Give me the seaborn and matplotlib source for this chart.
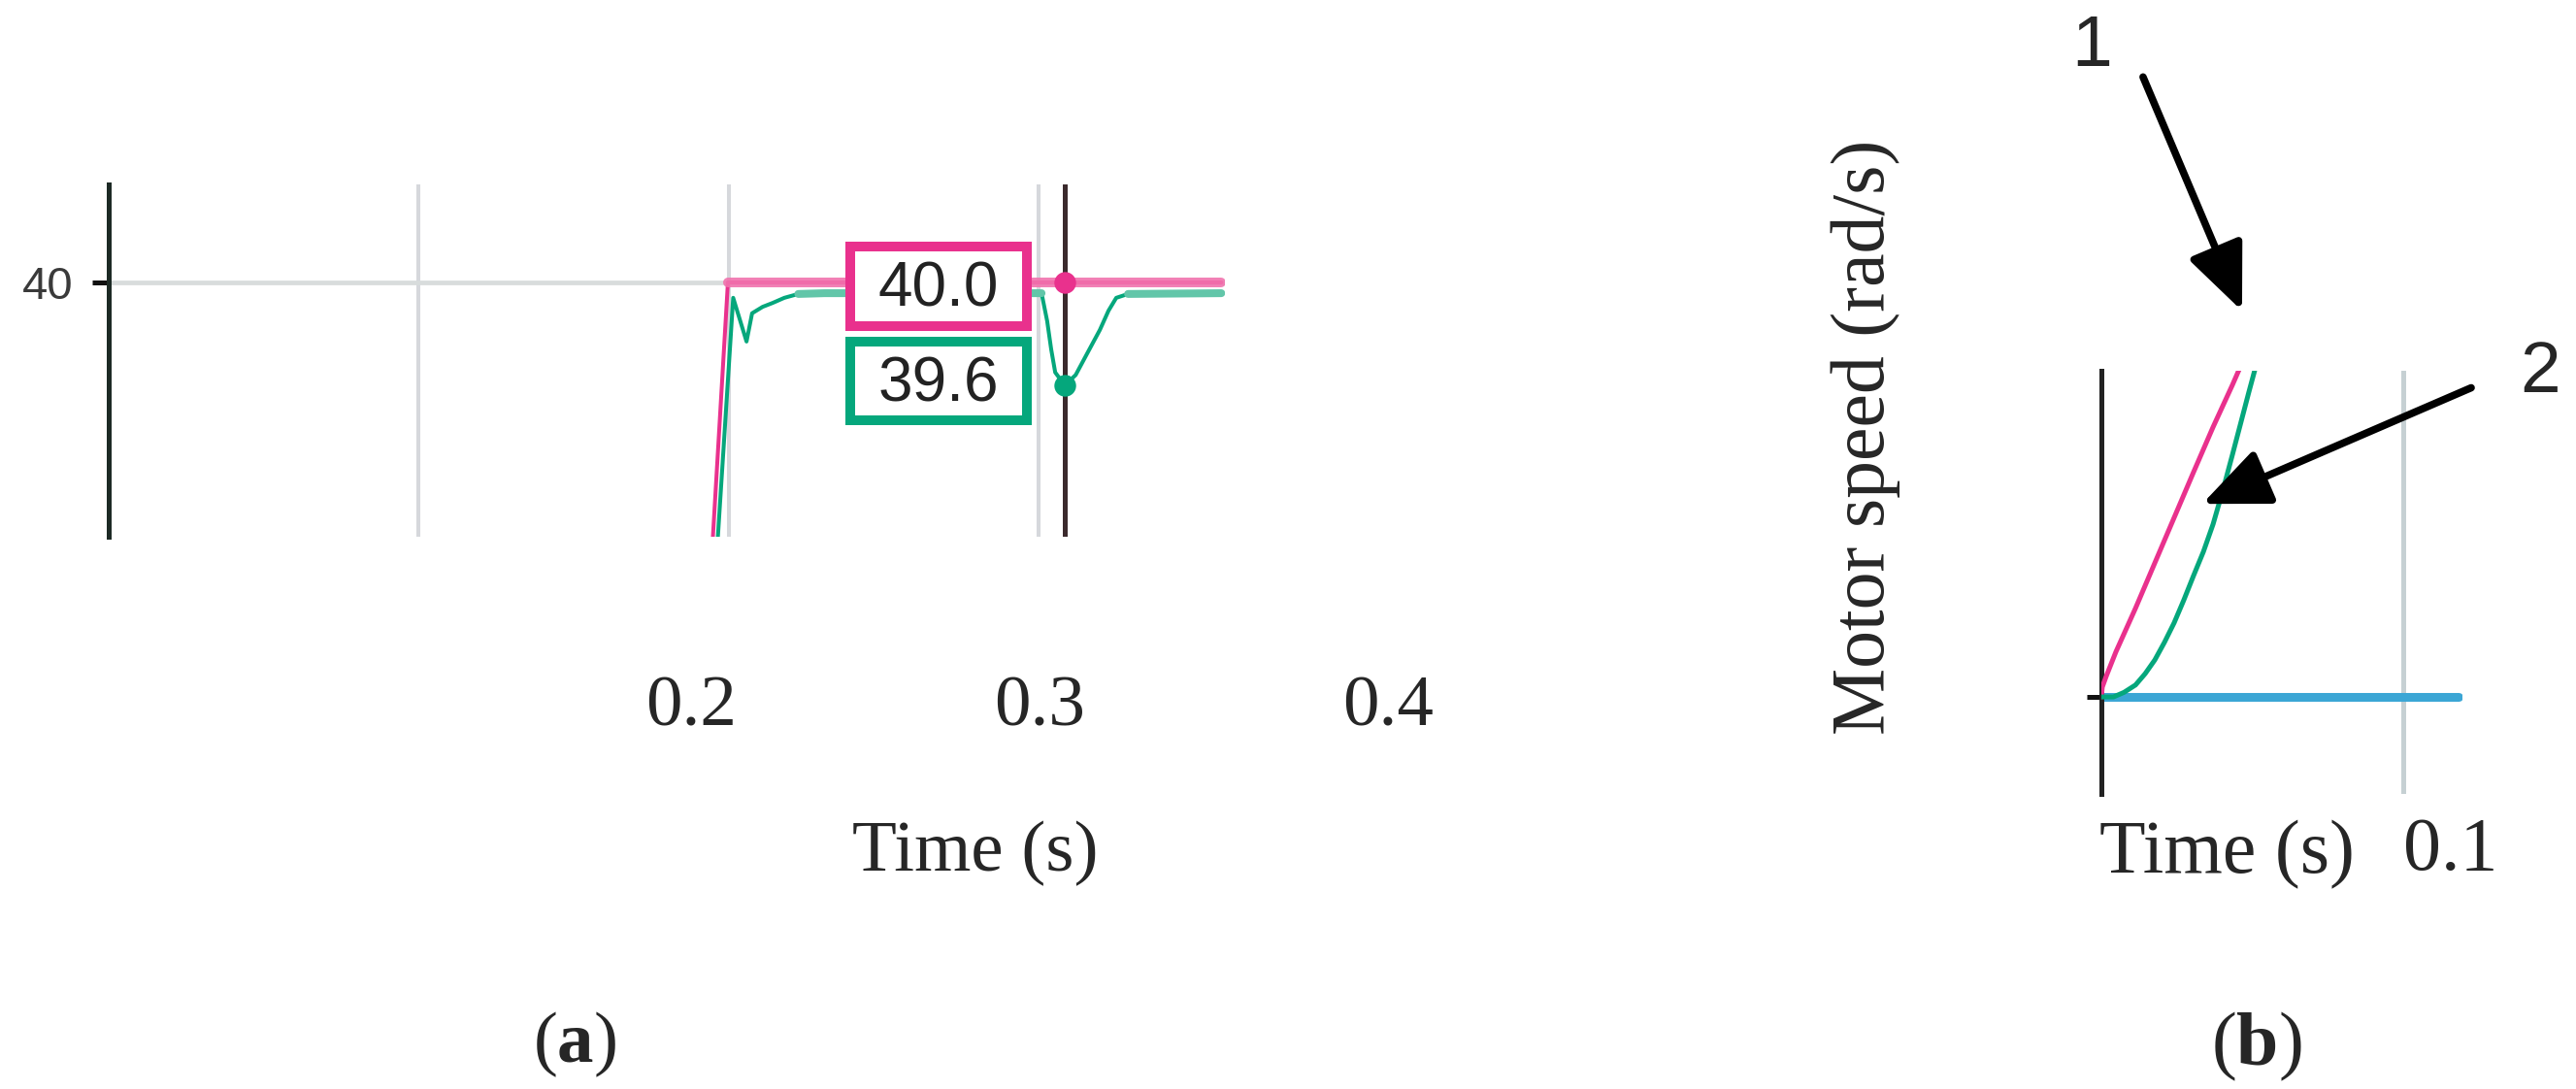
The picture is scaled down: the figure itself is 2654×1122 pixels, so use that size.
import matplotlib
matplotlib.use("Agg")
import matplotlib.pyplot as plt
from matplotlib.patches import Rectangle, ArrowStyle
import numpy as np
import pandas as pd
import seaborn as sns

# (a) zoom on the load step: reference speed and measured speed
ref_a_time = [0.190, 0.1998, 0.359]
ref_a_speed = [38.0, 40.0, 40.0]
act_a_time = [0.190, 0.1965, 0.2015, 0.2058, 0.2076, 0.2110, 0.2142, 0.2180, 0.2225, 0.2310,
              0.3010, 0.3028, 0.3041, 0.3054, 0.3085, 0.3120, 0.3160, 0.3198, 0.3226, 0.3251,
              0.3289, 0.359]
act_a_speed = [37.6, 39.00, 39.94, 39.77, 39.88, 39.905, 39.92, 39.94, 39.955, 39.958,
               39.958, 39.85, 39.74, 39.65, 39.60, 39.64, 39.73, 39.815, 39.89, 39.94,
               39.955, 39.958]
cursor_time = 0.3085
readout_ref = 40.0
readout_act = 39.6
a_grid = [0.1, 0.2, 0.3]
a_yticks = [40]
a_outer_ticks = [0.2, 0.3, 0.4]

# (b) start-up
ref_b_time = [0.0, 0.0003, 0.0016, 0.0048, 0.0113, 0.0177, 0.0241, 0.0305, 0.0370, 0.0434, 0.0475]
ref_b_speed = [0.0, 0.6, 1.26, 2.75, 5.42, 8.19, 10.96, 13.73, 16.50, 19.07, 20.8]
act_b_time = [0.0, 0.0040, 0.0075, 0.0113, 0.0145, 0.0177, 0.0209, 0.0241, 0.0273, 0.0305,
              0.0338, 0.0370, 0.0402, 0.0434, 0.0461, 0.0488, 0.0507, 0.0520]
act_b_speed = [0.0, 0.0, 0.28, 0.73, 1.42, 2.26, 3.34, 4.53, 5.92, 7.40,
               8.88, 10.56, 12.6, 14.8, 16.7, 18.6, 19.9, 20.8]
load_b_time = [0.0, 0.1183]
load_b_value = [0.0, 0.0]
b_grid = [0.1]

PINK = "#e9318d"
PINK_BAND = "#f173ae"
GREEN = "#05a77c"
GREEN_BAND = "#62c6a9"
BLUE = "#3ba6d5"

sns.set_theme(style="white")
plt.rcParams["font.family"] = ["Liberation Serif", "DejaVu Serif"]
plt.rcParams["mathtext.fontset"] = "custom"
plt.rcParams["mathtext.rm"] = "Liberation Serif"
plt.rcParams["mathtext.bf"] = "Liberation Serif:bold"

W, H = 2654, 1122
fig = plt.figure(figsize=(W / 100, H / 100), dpi=100)
fig.patch.set_facecolor("white")


def box(x0, y0, x1, y1):
    return [x0 / W, 1 - y1 / H, (x1 - x0) / W, (y1 - y0) / H]


SERIF = 54
SANS = ["Liberation Sans", "DejaVu Sans"]

# ---------------- panel (a) ----------------
ax = fig.add_axes(box(112, 190, 1261.5, 553))
ax.set_xlim(0, 0.36)
ax.set_ylim(39.011, 40.381)
ax.set_facecolor("white")
for s in ["top", "right", "bottom"]:
    ax.spines[s].set_visible(False)
ax.spines["left"].set_color("#1d2a25")
ax.spines["left"].set_linewidth(3.6)
ax.set_xticks(a_grid)
ax.set_xticklabels([])
ax.set_yticks(a_yticks)
ax.set_yticklabels([str(v) for v in a_yticks], family=SANS, fontsize=34, color="#3a3a3a")
ax.tick_params(axis="x", length=0)
ax.tick_params(axis="y", length=12, width=3.6, color="#111111", pad=14, left=True)
ax.grid(axis="x", color="#d6d8dc", lw=2.9)
ax.grid(axis="y", color="#d8dcdc", lw=3.4)

dfa_ref = pd.DataFrame({"t": ref_a_time, "v": ref_a_speed})
dfa_act = pd.DataFrame({"t": act_a_time, "v": act_a_speed})
sns.lineplot(data=dfa_ref, x="t", y="v", ax=ax, color=PINK, lw=2.9, zorder=3)
sns.lineplot(data=dfa_ref[dfa_ref.t >= 0.1998], x="t", y="v", ax=ax, color=PINK_BAND, lw=7.2, alpha=0.9, zorder=3)
sns.lineplot(data=dfa_act, x="t", y="v", ax=ax, color=GREEN, lw=2.9, zorder=3)
seg1 = dfa_act[(dfa_act.t >= 0.2225) & (dfa_act.t <= 0.3010)]
seg2 = dfa_act[dfa_act.t >= 0.3289]
sns.lineplot(data=seg1, x="t", y="v", ax=ax, color=GREEN_BAND, lw=5.8, zorder=3)
sns.lineplot(data=seg2, x="t", y="v", ax=ax, color=GREEN_BAND, lw=5.8, zorder=3)
ax.axvline(cursor_time, color="#3b2a2d", lw=3.6, zorder=4)
sns.scatterplot(x=[cursor_time], y=[readout_ref], ax=ax, color=PINK, s=260, linewidth=0, zorder=6)
sns.scatterplot(x=[cursor_time], y=[readout_act], ax=ax, color=GREEN, s=260, linewidth=0, zorder=6)
ax.set_xlabel("")
ax.set_ylabel("")

# readout boxes
for (yb, hb, val, col) in [(0.5978, 0.2259, readout_ref, PINK), (0.3306, 0.2231, readout_act, GREEN)]:
    ax.add_patch(Rectangle((0.6647, yb), 0.1583, hb, transform=ax.transAxes, fc="white",
                           ec=col, lw=7.2, zorder=5))
    ax.text(0.6647 + 0.1583 / 2, yb + hb / 2 - 0.01, f"{val:.1f}", transform=ax.transAxes,
            ha="center", va="center", family=SANS, fontsize=46, color="#222222", zorder=6)

# outer time axis of panel (a)
ax_o = fig.add_axes(box(712, 570, 1430, 696))
ax_o.set_xlim(0.2, 0.4)
ax_o.patch.set_alpha(0)
for s in ax_o.spines.values():
    s.set_visible(False)
ax_o.set_yticks([])
ax_o.set_xticks(a_outer_ticks)
ax_o.set_xticklabels([f"{v:.1f}" for v in a_outer_ticks], fontsize=SERIF)
ax_o.tick_params(axis="x", length=0, pad=0)
fig.text(1005 / W, 1 - 897 / H, "Time (s)", ha="center", va="baseline", fontsize=SERIF)
fig.text(592 / W, 1 - 1094 / H, r"($\mathbf{a}$)", ha="center", va="baseline", fontsize=SERIF)

# ---------------- panel (b) ----------------
bx = fig.add_axes(box(2165, 382, 2537, 818))
bx.set_xlim(0, 0.1196)
bx.set_ylim(-5.93, 19.94)
bx.set_facecolor("white")
for s in ["top", "right", "bottom"]:
    bx.spines[s].set_visible(False)
bx.spines["left"].set_color("#222222")
bx.spines["left"].set_linewidth(3.6)
bx.set_xticks(b_grid)
bx.set_xticklabels([f"{v:.1f}" for v in b_grid], fontsize=SERIF + 2, ha="left")
bx.set_yticks([0])
bx.set_yticklabels([])
bx.tick_params(axis="x", length=0, pad=17)
bx.tick_params(axis="y", length=11, width=3.6, color="#111111", left=True)
bx.grid(axis="x", color="#c6d0d3", lw=3.6)

sns.lineplot(x=load_b_time, y=load_b_value, ax=bx, color=BLUE, lw=6.5, zorder=2)
sns.lineplot(x=ref_b_time, y=ref_b_speed, ax=bx, color=PINK, lw=3.6, zorder=3)
sns.lineplot(x=act_b_time, y=act_b_speed, ax=bx, color=GREEN, lw=3.6, zorder=3)
bx.set_xlabel("")
bx.set_ylabel("")

head = ArrowStyle("-|>", head_length=0.42, head_width=0.18)
bx.annotate("", xy=(0.0466, 23.6), xytext=(0.0138, 37.9), annotation_clip=False,
            arrowprops=dict(arrowstyle=head, mutation_scale=100, lw=5.5, color="black",
                            shrinkA=0, shrinkB=0))
bx.annotate("", xy=(0.0334, 11.8), xytext=(0.1225, 18.9), annotation_clip=False,
            arrowprops=dict(arrowstyle=head, mutation_scale=100, lw=5.5, color="black",
                            shrinkA=0, shrinkB=0))
fig.text(2155 / W, 1 - 48 / H, "1", ha="center", va="center", family=SANS, fontsize=54)
fig.text(2617 / W, 1 - 385 / H, "2", ha="center", va="center", family=SANS, fontsize=54)

fig.text(1922 / W, 1 - 450 / H, "Motor speed (rad/s)", rotation=90, ha="center", va="center",
         fontsize=SERIF + 2)
fig.text(2163 / W, 1 - 899 / H, "Time (s)", ha="left", va="baseline", fontsize=SERIF + 2)
fig.text(2325 / W, 1 - 1097 / H, r"($\mathbf{b}$)", ha="center", va="baseline", fontsize=SERIF + 2)

fig.savefig("out.png", dpi=100, facecolor="white")
